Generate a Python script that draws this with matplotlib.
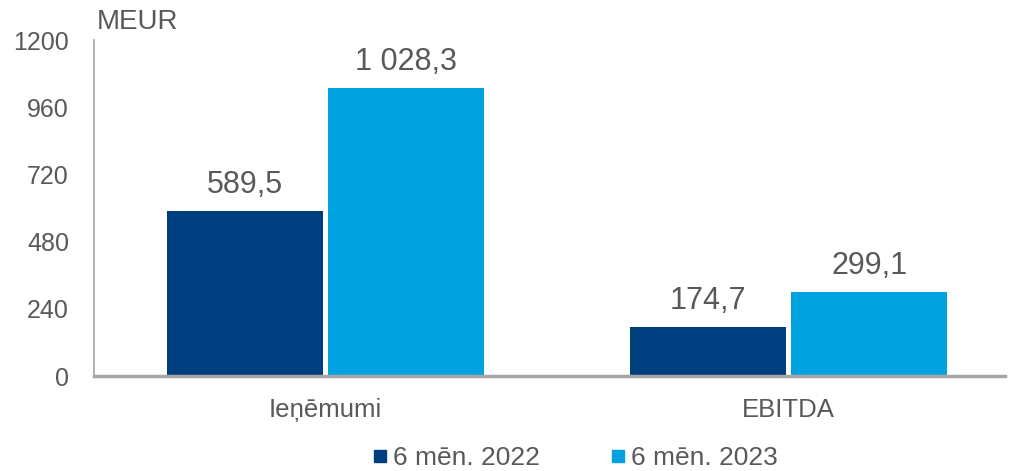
import matplotlib
matplotlib.use("Agg")
import matplotlib.pyplot as plt
from matplotlib.lines import Line2D
import numpy as np

categories = ["Ieņēmumi", "EBITDA"]
series_names = ["6 mēn. 2022", "6 mēn. 2023"]
values_2022 = [589.5, 174.7]
values_2023 = [1028.3, 299.1]
labels_2022 = ["589,5", "174,7"]
labels_2023 = ["1 028,3", "299,1"]
yticks = [0, 240, 480, 720, 960, 1200]

colors = ["#003F7F", "#00A3E0"]
txt = "#595959"

plt.rcParams['font.family'] = ['Liberation Sans', 'DejaVu Sans']

fig = plt.figure(figsize=(10.1, 4.71), dpi=100)
ax = fig.add_axes([94/1010, 1 - 376/471, (1005-94)/1010, (376-40)/471])

x = np.arange(len(categories))
w = 0.337
off = 0.174
ax.bar(x - off, values_2022, w, color=colors[0])
ax.bar(x + off, values_2023, w, color=colors[1])

for xi, v, l in zip(x, values_2022, labels_2022):
    ax.text(xi - off, v + 40, l, ha='center', va='bottom', fontsize=22, color=txt)
for xi, v, l in zip(x, values_2023, labels_2023):
    ax.text(xi + off, v + 40, l, ha='center', va='bottom', fontsize=22, color=txt)

ax.set_xlim(-0.5, 1.467)
ax.set_ylim(0, 1200)
ax.set_yticks(yticks)
ax.set_yticklabels([str(t) for t in yticks], fontsize=18, color=txt)
ax.set_xticks(x)
ax.set_xticklabels(categories, fontsize=18.5, color=txt)
ax.tick_params(axis='y', length=0, pad=18)
ax.tick_params(axis='x', length=0, pad=16)

for s in ['top', 'right']:
    ax.spines[s].set_visible(False)
ax.spines['left'].set_color('#A6A6A6')
ax.spines['left'].set_linewidth(1.2)
ax.spines['bottom'].set_color('#A6A6A6')
ax.spines['bottom'].set_linewidth(2.5)

fig.text(97/1010, 1 - 22/471, "MEUR", fontsize=20, color=txt, ha='left', va='center')

handles = [Line2D([], [], marker='s', linestyle='none', markersize=8, color=c) for c in colors]
leg = fig.legend(handles, series_names, loc='center', bbox_to_anchor=(573/1010, 1 - 458/471),
                 ncol=2, frameon=False, fontsize=19, handletextpad=0.05, columnspacing=2.5,
                 handlelength=0.9)
for t in leg.get_texts():
    t.set_color(txt)

fig.savefig("out.png", dpi=100)
